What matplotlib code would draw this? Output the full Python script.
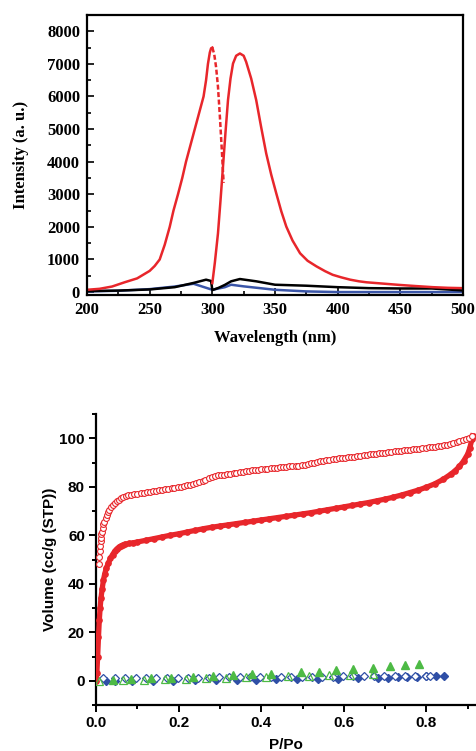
import matplotlib
matplotlib.use("Agg")
import matplotlib.pyplot as plt
from matplotlib.ticker import MultipleLocator, FormatStrFormatter

# ---------------- Top panel data (fluorescence) ----------------
red1_x = [200, 210, 220, 230, 240, 250, 254, 258, 262, 266, 269, 272.6, 276, 279, 282.5,
          286, 289.5, 293, 295, 296.5, 298, 299, 300]
red1_y = [70, 100, 170, 300, 420, 650, 800, 1000, 1450, 2000, 2500, 3000, 3500, 4000, 4500,
          5000, 5500, 6000, 6500, 7000, 7350, 7480, 7500]
red1d_x = [300, 301.5, 303, 304.5, 306, 307.5, 309]
red1d_y = [7500, 7300, 6900, 6300, 5400, 4400, 3350]
red2_x = [300, 302, 304.5, 306.5, 308.5, 310.5, 312.5, 314.5, 316.5, 319, 322, 325, 327, 331,
          335, 339, 343, 347, 351, 355, 359, 364, 370, 376, 383, 390, 396, 403, 410, 417,
          423, 436, 449, 462, 476, 488, 500]
red2_y = [275, 900, 1800, 2800, 3850, 4900, 5890, 6550, 7010, 7250, 7320, 7250, 7060, 6550,
          5890, 5050, 4250, 3600, 3030, 2480, 2010, 1580, 1190, 960, 790, 640, 530, 450, 380, 330,
          300, 260, 220, 185, 150, 130, 120]
black_x = [200, 225, 250, 270, 285, 295, 299, 300, 305, 310, 315, 322, 335, 350, 375, 400, 425, 450, 475, 500]
black_y = [30, 45, 80, 150, 280, 380, 340, 60, 130, 220, 330, 400, 330, 225, 195, 150, 120, 110, 110, 50]
blue_x = [200, 225, 250, 270, 285, 300, 310, 315, 325, 350, 375, 400, 450, 500]
blue_y = [20, 40, 90, 170, 255, 70, 150, 225, 175, 70, 20, 0, 0, 0]

# ---------------- Bottom panel data (N2 isotherms) ----------------
des_x = [0.007, 0.008, 0.009, 0.010, 0.011, 0.012, 0.013, 0.014, 0.016, 0.018, 0.020, 0.023,
         0.026, 0.029, 0.032, 0.036, 0.040, 0.045, 0.050, 0.055, 0.060, 0.066, 0.072, 0.078,
         0.085, 0.092, 0.100, 0.108, 0.115, 0.123, 0.130, 0.138, 0.145, 0.153, 0.160, 0.168,
         0.175, 0.183, 0.190, 0.198, 0.205, 0.213, 0.220, 0.228, 0.235, 0.243, 0.250, 0.258,
         0.265, 0.273, 0.280, 0.288, 0.295, 0.303, 0.310, 0.318, 0.325, 0.333, 0.340, 0.348,
         0.355, 0.363, 0.370, 0.378, 0.385, 0.393, 0.400, 0.408, 0.415, 0.423, 0.430, 0.438,
         0.445, 0.453, 0.460, 0.468, 0.475, 0.483, 0.490, 0.498, 0.505, 0.513, 0.520, 0.528,
         0.535, 0.543, 0.550, 0.558, 0.565, 0.573, 0.580, 0.588, 0.595, 0.603, 0.610, 0.618,
         0.625, 0.633, 0.640, 0.648, 0.655, 0.663, 0.670, 0.678, 0.685, 0.693, 0.700, 0.708,
         0.715, 0.723, 0.730, 0.738, 0.745, 0.753, 0.760, 0.768, 0.775, 0.783, 0.790, 0.798,
         0.805, 0.813, 0.820, 0.828, 0.835, 0.843, 0.850, 0.858, 0.865, 0.873, 0.880, 0.888,
         0.895, 0.903, 0.910]
des_y = [48, 51, 53.5, 55.5, 57.5, 59, 60.5, 61.5, 63, 64.5, 65.5, 67,
         68.3, 69.5, 70.5, 71.5, 72.5, 73.3, 74, 74.7, 75.2, 75.7, 76.1, 76.4,
         76.7, 77.0, 77.2, 77.4, 77.6, 77.8, 78.0, 78.2, 78.4, 78.6, 78.8, 79.0,
         79.2, 79.4, 79.6, 79.8, 80.0, 80.3, 80.6, 80.9, 81.2, 81.6, 82.0, 82.4,
         82.9, 83.5, 84.2, 84.6, 84.8, 84.9, 85.0, 85.2, 85.4, 85.6, 85.8, 86.0,
         86.2, 86.4, 86.6, 86.8, 87.0, 87.1, 87.2, 87.3, 87.5, 87.6, 87.7, 87.9,
         88.0, 88.1, 88.2, 88.4, 88.5, 88.6, 88.7, 88.8, 89.0, 89.3, 89.6, 89.9,
         90.2, 90.5, 90.8, 91.0, 91.2, 91.4, 91.5, 91.7, 91.8, 92.0, 92.1, 92.3,
         92.4, 92.6, 92.8, 92.9, 93.1, 93.3, 93.5, 93.6, 93.8, 94.0, 94.1, 94.3,
         94.4, 94.6, 94.7, 94.9, 95.0, 95.2, 95.3, 95.5, 95.6, 95.7, 95.8, 96.0,
         96.2, 96.4, 96.5, 96.7, 96.9, 97.1, 97.3, 97.6, 98.0, 98.4, 98.8, 99.3,
         99.7, 100.3, 101.0]
ads_x = [0.000, 0.002, 0.004, 0.006, 0.008, 0.010, 0.012, 0.015, 0.018, 0.021, 0.025, 0.030,
         0.035, 0.040, 0.045, 0.050, 0.055, 0.060, 0.065, 0.070, 0.080, 0.090, 0.100, 0.120,
         0.140, 0.160, 0.180, 0.200, 0.220, 0.240, 0.260, 0.280, 0.300, 0.320, 0.340, 0.360,
         0.380, 0.400, 0.420, 0.440, 0.460, 0.480, 0.500, 0.520, 0.540, 0.560, 0.580, 0.600,
         0.620, 0.640, 0.660, 0.680, 0.700, 0.720, 0.740, 0.760, 0.780, 0.800, 0.820, 0.840,
         0.860, 0.870, 0.880, 0.890, 0.900, 0.905, 0.910, 0.912]
ads_y = [0, 3, 10, 18, 25, 30, 34, 38, 41.5, 44, 46.5, 48.5,
         50.5, 52, 53.3, 54.3, 55, 55.6, 56, 56.3, 56.6, 56.9, 57.2, 57.9,
         58.6, 59.3, 60.0, 60.6, 61.3, 62.0, 62.7, 63.3, 63.8, 64.3, 64.8, 65.3,
         65.8, 66.3, 66.8, 67.3, 67.8, 68.3, 68.8, 69.3, 69.9, 70.5, 71.1, 71.7,
         72.3, 72.9, 73.5, 74.2, 74.9, 75.7, 76.6, 77.6, 78.6, 79.8, 81.2, 83.0,
         85.3, 86.7, 88.4, 90.6, 93.5, 96, 99.5, 101]
bd_fill_x = [0.024, 0.045, 0.088, 0.138, 0.186, 0.239, 0.291, 0.341, 0.388, 0.436, 0.487,
             0.537, 0.586, 0.634, 0.683, 0.707, 0.731, 0.753, 0.776, 0.800, 0.822, 0.843]
bd_fill_y = [-0.3, -0.2, -0.1, 0.0, 0.1, 0.2, 0.3, 0.4, 0.5, 0.6, 0.7,
             0.8, 0.9, 1.0, 1.2, 1.3, 1.4, 1.5, 1.6, 1.8, 1.9, 2.1]
bd_open_x = [0.017, 0.045, 0.071, 0.096, 0.122, 0.146, 0.172, 0.198, 0.223, 0.248, 0.273,
             0.298, 0.323, 0.348, 0.373, 0.398, 0.423, 0.448, 0.473, 0.498, 0.523, 0.548,
             0.573, 0.598, 0.623, 0.648, 0.673, 0.698, 0.723, 0.748, 0.773, 0.798, 0.808]
bd_open_y = [1.1, 1.1, 1.1, 1.1, 1.2, 1.2, 1.2, 1.2, 1.3, 1.3, 1.3,
             1.4, 1.4, 1.4, 1.5, 1.5, 1.5, 1.6, 1.6, 1.6, 1.7, 1.7,
             1.7, 1.8, 1.8, 1.8, 1.9, 1.9, 1.9, 2.0, 2.0, 2.0, 2.1]
gt_fill_x = [0.040, 0.085, 0.134, 0.182, 0.234, 0.283, 0.332, 0.378, 0.424, 0.497, 0.541,
             0.581, 0.622, 0.670, 0.712, 0.747, 0.781]
gt_fill_y = [0.3, 0.7, 1.0, 1.3, 1.6, 2.0, 2.2, 2.6, 2.9, 3.5, 3.8,
             4.4, 4.8, 5.2, 5.9, 6.3, 7.0]
gt_open_x = [0.007, 0.065, 0.116, 0.168, 0.217, 0.267, 0.315, 0.364, 0.412, 0.465, 0.515,
             0.565, 0.614, 0.670]
gt_open_y = [0.0, 0.3, 0.5, 0.7, 0.9, 1.1, 1.3, 1.5, 1.7, 1.9, 2.1,
             2.3, 2.5, 2.8]

RED = "#e8262b"
BLUE = "#2f4fa6"
GREEN = "#4dba45"

fig = plt.figure(figsize=(4.76, 7.51), dpi=100)

# ---------------- Top panel ----------------
serif = ["Liberation Serif", "DejaVu Serif"]
ax1 = fig.add_axes([87/476, 1-295/751, (463-87)/476, (295-15)/751])
ax1.plot(blue_x, blue_y, color="#3a55a8", lw=1.8)
ax1.plot(black_x, black_y, color="black", lw=1.8)
ax1.plot(red1_x, red1_y, color=RED, lw=1.8)
ax1.plot(red1d_x, red1d_y, color=RED, lw=1.8, ls=(0, (2, 1)))
ax1.plot(red2_x, red2_y, color=RED, lw=1.8)
ax1.set_xlim(200, 500)
ax1.set_ylim(-90, 8500)
ax1.xaxis.set_major_locator(MultipleLocator(50))
ax1.xaxis.set_minor_locator(MultipleLocator(25))
ax1.yaxis.set_major_locator(MultipleLocator(1000))
ax1.yaxis.set_minor_locator(MultipleLocator(500))
ax1.tick_params(which="both", direction="in", top=False, right=False, width=1.2)
ax1.tick_params(which="major", length=5, pad=5)
ax1.tick_params(which="minor", length=3)
for s in ax1.spines.values():
    s.set_linewidth(1.6)
for lab in ax1.get_xticklabels() + ax1.get_yticklabels():
    lab.set_fontfamily(serif)
    lab.set_fontweight("bold")
    lab.set_fontsize(12)
ax1.set_xlabel("Wavelength (nm)", fontfamily=serif, fontweight="bold", fontsize=12, labelpad=9)
ax1.set_ylabel("Intensity (a. u.)", fontfamily=serif, fontweight="bold", fontsize=12, labelpad=13)

# ---------------- Bottom panel ----------------
sans = ["Liberation Sans", "DejaVu Sans"]
ax2 = fig.add_axes([96/476, 1-705/751, (476-96)/476, (705-414)/751])
ax2.plot(ads_x, ads_y, color=RED, lw=3.8, marker="o", ms=3.8, mfc=RED, mec=RED, zorder=3)
ax2.plot(des_x, des_y, ls="none", marker="o", ms=4.2, mfc="white", mec=RED, mew=0.8, zorder=4)
ax2.plot(bd_fill_x, bd_fill_y, ls="none", marker="D", ms=4.4, mfc=BLUE, mec=BLUE, zorder=3)
ax2.plot(bd_open_x, bd_open_y, ls="none", marker="D", ms=4.4, mfc="white", mec=BLUE, mew=0.9, zorder=3)
ax2.plot(gt_fill_x, gt_fill_y, ls="none", marker="^", ms=5.2, mfc=GREEN, mec=GREEN, zorder=3)
ax2.plot(gt_open_x, gt_open_y, ls="none", marker="^", ms=5.2, mfc="none", mec=GREEN, mew=0.9, zorder=3)
ax2.set_xlim(0, 0.92)
ax2.set_ylim(-10, 110)
ax2.xaxis.set_major_locator(MultipleLocator(0.2))
ax2.xaxis.set_minor_locator(MultipleLocator(0.1))
ax2.yaxis.set_major_locator(MultipleLocator(20))
ax2.yaxis.set_minor_locator(MultipleLocator(10))
ax2.spines["top"].set_visible(False)
ax2.spines["right"].set_visible(False)
for s in ("left", "bottom"):
    ax2.spines[s].set_linewidth(1.6)
ax2.tick_params(which="both", direction="out", width=1.4)
ax2.tick_params(which="major", length=5, pad=3)
ax2.tick_params(which="minor", length=3)
ax2.xaxis.set_major_formatter(FormatStrFormatter("%.1f"))
for lab in ax2.get_xticklabels() + ax2.get_yticklabels():
    lab.set_fontfamily(sans)
    lab.set_fontweight("bold")
    lab.set_fontsize(11)
ax2.set_xlabel("P/Po", fontfamily=sans, fontweight="bold", fontsize=11, labelpad=6)
ax2.set_ylabel("Volume (cc/g (STP))", fontfamily=sans, fontweight="bold", fontsize=11, labelpad=2)

fig.savefig("out.png", dpi=100)
